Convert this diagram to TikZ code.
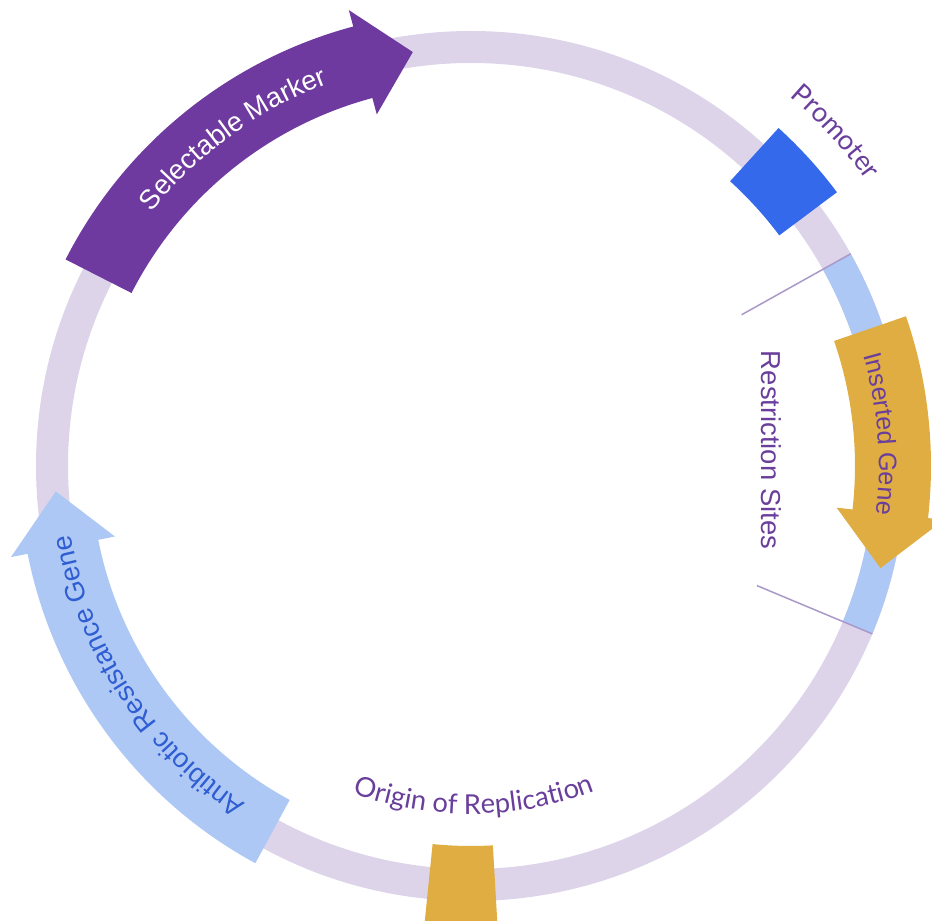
\documentclass[tikz,border=0pt]{standalone}
\usepackage{fontspec}
\setmainfont{Liberation Sans}
\newfontfamily\grotesk{Lato}
\usetikzlibrary{decorations.text}

\definecolor{ringlilac}{HTML}{DDD4EA}
\definecolor{siteblue}{HTML}{AEC8F6}
\definecolor{markerpurple}{HTML}{6F3A9F}
\definecolor{genegold}{HTML}{E0AD42}
\definecolor{promblue}{HTML}{3569EC}
\definecolor{labelpurple}{HTML}{6A3F9C}
\definecolor{resblue}{HTML}{2F5DD2}
\definecolor{cutline}{HTML}{A999C8}

\newcommand{\lblfont}{\fontsize{15.6}{18}\selectfont}
\newcommand{\smallfont}{\fontsize{14.4}{17}\selectfont}
% colour, tail angle, head base angle, tip angle, radius, body half width, head half width
\newcommand{\genearrow}[7]{%
  \fill[#1] (#2:#5-#6) arc[start angle=#2, end angle=#3, radius=#5-#6]
    -- (#3:#5-#7) -- (#4:#5) -- (#3:#5+#7) -- (#3:#5+#6)
    arc[start angle=#3, end angle=#2, radius=#5+#6] -- cycle;}

\begin{document}
\begin{tikzpicture}[x=0.2mm, y=0.2mm,
    backbone/.style={line width=6.4mm},
    cut/.style={cutline, line width=0.3mm},
    arclabel/.style n args={3}{decorate,
      decoration={text along path, text align=center, text color=#1, text={|#2|#3}}}]
  \useasboundingbox (0,0) rectangle (932,920);
  \clip (0,0) rectangle (932,920);
  \begin{scope}[shift={(471,454)}]
    % plasmid backbone
    \draw[backbone, ringlilac] (0,0) circle[radius=419];
    \draw[backbone, siteblue] (29.2:419) arc[start angle=29.2, end angle=-22.7, radius=419];
    \draw[cut] (29.2:310) -- (29.2:435);
    \draw[cut] (-22.7:310) -- (-22.7:435);

    % genes
    \genearrow{markerpurple}{153}{105}{98}{418}{37}{54}
    \genearrow{genegold}{19}{-6.5}{-14}{422}{38}{54}
    \genearrow{siteblue}{241.5}{191.2}{183.5}{416}{36}{53}

    % promoter and ori blocks
    \fill[promblue] (36.8:385) arc[start angle=36.8, end angle=47.7, radius=385]
      -- (47.7:457) arc[start angle=47.7, end angle=36.8, radius=457] -- cycle;
    \fill[genegold] (264.2:380) arc[start angle=264.2, end angle=273.3, radius=380]
      -- (273.3:462) arc[start angle=273.3, end angle=264.2, radius=462] -- cycle;

    % labels
    \path[arclabel={white}{\lblfont}{Selectable Marker}]
      (160:408) arc[start angle=160, end angle=92, radius=408];
    \path[arclabel={labelpurple}{\smallfont}{Inserted Gene}]
      (25:408) arc[start angle=25, end angle=-16, radius=408];
    \path[arclabel={resblue}{\lblfont}{Antibiotic Resistance Gene}]
      (250:406) arc[start angle=250, end angle=176, radius=406];
    \path[arclabel={labelpurple}{\lblfont\grotesk}{Origin of Replication}]
      (235:348) arc[start angle=235, end angle=306, radius=348];
    \path[arclabel={labelpurple}{\lblfont\grotesk}{Promoter}]
      (60:488) arc[start angle=60, end angle=25, radius=488];
    \node (sites) [rotate=-90, text=labelpurple, font=\lblfont] at (300,16) {Restriction Sites};
  \end{scope}
\end{tikzpicture}
\end{document}
